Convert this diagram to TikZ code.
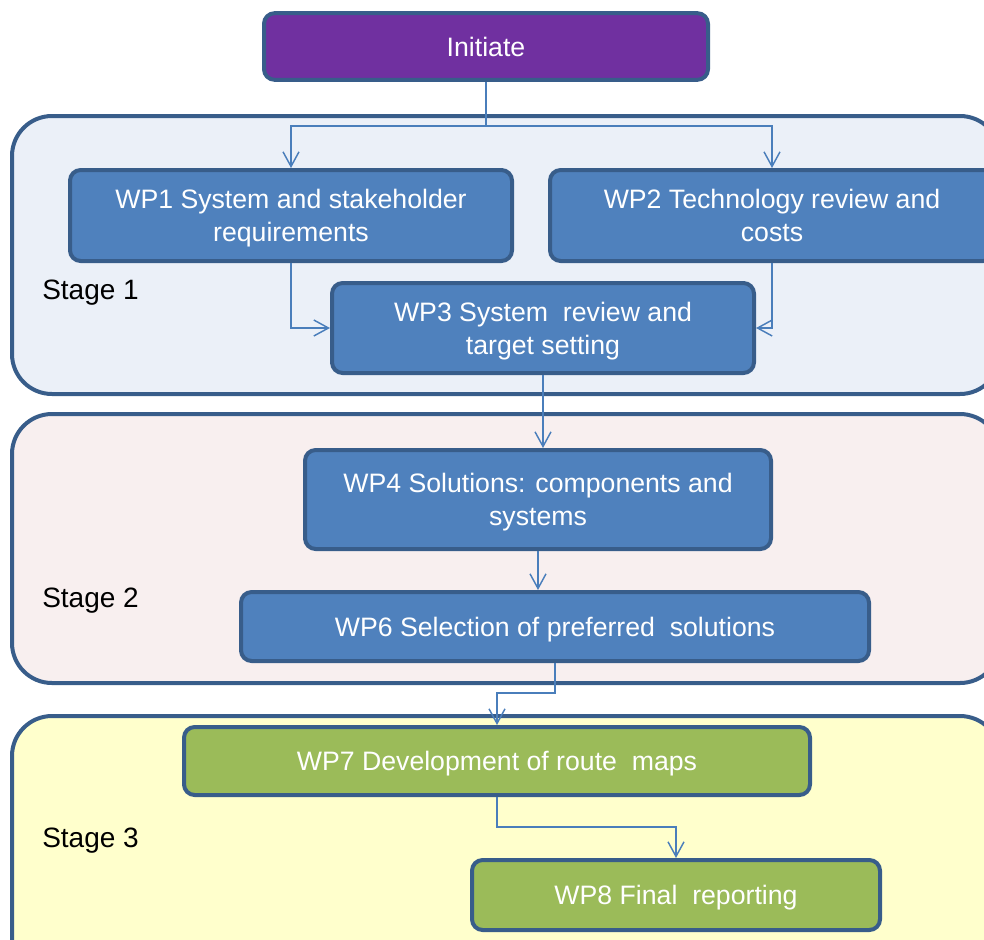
\documentclass[tikz,border=0pt]{standalone}
\usepackage{fontspec}
\setmainfont{Liberation Sans}
\usetikzlibrary{arrows.meta}
\definecolor{wpblue}{HTML}{4F81BD}
\definecolor{wpedge}{HTML}{385D8A}
\definecolor{wpgreen}{HTML}{9BBB59}
\definecolor{wppurple}{HTML}{7030A0}
\definecolor{flowline}{HTML}{4A7EBB}
\definecolor{stageonefill}{HTML}{EBF0F8}
\definecolor{stagetwofill}{HTML}{F8EFEF}
\definecolor{stagethreefill}{HTML}{FFFFCC}
\tikzset{
    wpbox/.style={draw=wpedge, line width=3pt, rounded corners=8pt, fill=wpblue,
        text=white, align=center, inner sep=0pt, text depth=0pt,
        font=\fontsize{20}{25}\selectfont},
    stagebox/.style={draw=wpedge, line width=3pt, rounded corners=30pt},
    stagelabel/.style={anchor=west, inner sep=0pt, font=\fontsize{21}{25}\selectfont},
    flow/.style={draw=flowline, line width=1.1pt, -{Straight Barb[length=11pt,width=12pt]}},
}

\begin{document}
\begin{tikzpicture}[x=0.75pt, y=-0.75pt]
    \useasboundingbox (0,0) rectangle (984,939);
    \clip (0,0) rectangle (984,939);

    % Stage containers
    \draw[stagebox, fill=stageonefill] (12,116) rectangle (1000,394);
    \draw[stagebox, fill=stagetwofill] (12,414) rectangle (1000,683);
    \draw[stagebox, fill=stagethreefill] (12,716) rectangle (1000,980);

    \node[stagelabel] (s1) at (42,293) {Stage 1};
    \node[stagelabel] (s2) at (42,601) {Stage 2};
    \node[stagelabel] (s3) at (42,841) {Stage 3};

    % Work packages
    \node[wpbox, fill=wppurple, minimum width=333pt, minimum height=50pt] (initiate) at (486,46.5) {Initiate};
    \node[wpbox, minimum width=331.5pt, minimum height=68.25pt] (wp1) at (291,215.5) {WP1 System and stakeholder\\requirements};
    \node[wpbox, minimum width=333pt, minimum height=68.25pt] (wp2) at (772,215.5) {WP2 Technology review and\\costs};
    \node[wpbox, minimum width=316.5pt, minimum height=67.5pt] (wp3) at (543,328) {WP3 System\ \ review and\\target setting};
    \node[wpbox, minimum width=349.5pt, minimum height=74.25pt] (wp4) at (538,499.5) {WP4 Solutions: components and\\systems};
    \node[wpbox, minimum width=471pt, minimum height=51.75pt] (wp6) at (555,626.5) {WP6 Selection of preferred\ \ solutions};
    \node[wpbox, fill=wpgreen, minimum width=469.5pt, minimum height=51pt] (wp7) at (497,761) {WP7 Development of route\ \ maps};
    \node[wpbox, fill=wpgreen, minimum width=306pt, minimum height=52.5pt] (wp8) at (676,895) {WP8 Final\ \ reporting};

    % Connectors
    \draw[flow] (initiate.south) -- ++(0,44) -| (wp1.north);
    \draw[flow] (initiate.south) -- ++(0,44) -| (wp2.north);
    \draw[flow] (wp1.south) |- (wp3.west);
    \draw[flow] (wp2.south) |- (wp3.east);
    \draw[flow] (wp3.south) -- (wp3.south |- wp4.north);
    \draw[flow] (wp4.south) -- (wp4.south |- wp6.north);
    \draw[flow] (wp6.south) -- ++(0,30) -| (wp7.north);
    \draw[flow] (wp7.south) -- ++(0,30) -| (wp8.north);
\end{tikzpicture}
\end{document}
